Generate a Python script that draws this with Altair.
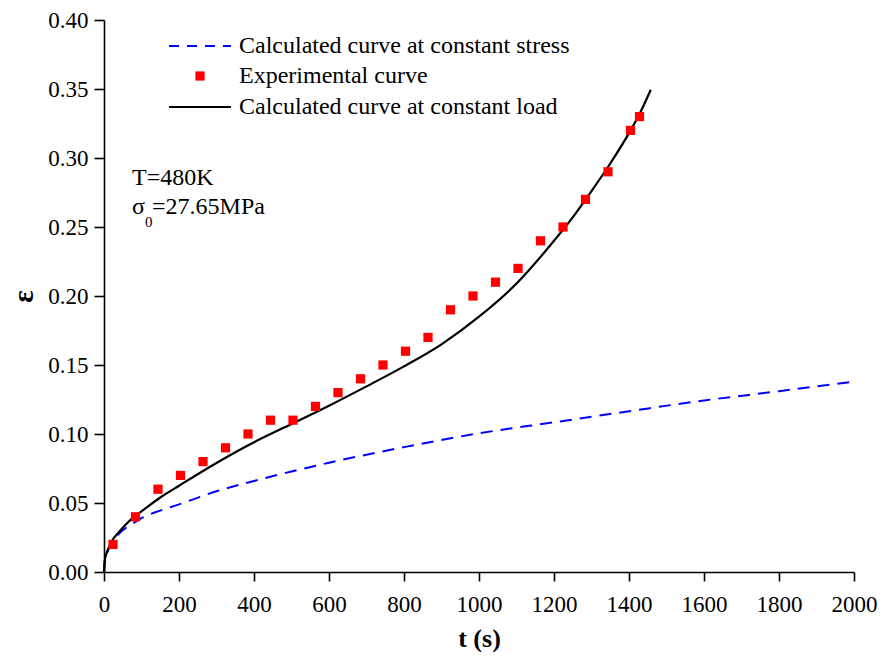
import altair as alt
import pandas as pd

# Experimental points
exp_t = [24, 84, 144, 204, 264, 324, 384, 444, 504, 564, 624, 684, 744, 804, 864,
         924, 984, 1044, 1104, 1164, 1224, 1284, 1344, 1404, 1428]
exp_eps = [0.02, 0.04, 0.06, 0.07, 0.08, 0.09, 0.10, 0.11, 0.11, 0.12, 0.13, 0.14, 0.15,
           0.16, 0.17, 0.19, 0.20, 0.21, 0.22, 0.24, 0.25, 0.27, 0.29, 0.32, 0.33]

# Calculated curve at constant load (black)
load_t = [0, 2, 5, 10, 20, 40, 60, 80, 100, 150, 200, 300, 400, 500, 600, 700, 800,
          900, 1000, 1100, 1200, 1250, 1300, 1350, 1400, 1430, 1458]
load_eps = [0.0, 0.008, 0.012, 0.016, 0.022, 0.029, 0.035, 0.040, 0.044, 0.054, 0.0625,
            0.079, 0.094, 0.1072, 0.1205, 0.1345, 0.149, 0.165, 0.185, 0.209, 0.240,
            0.257, 0.276, 0.296, 0.318, 0.333, 0.3495]

# Calculated curve at constant stress (blue dashed)
stress_t = [0, 2, 5, 10, 20, 40, 60, 80, 100, 150, 200, 300, 400, 500, 600, 700, 800,
            1000, 1200, 1400, 1600, 1800, 2000]
stress_eps = [0.0, 0.007, 0.011, 0.015, 0.0205, 0.0277, 0.0322, 0.0357, 0.039, 0.0445,
              0.049, 0.0585, 0.066, 0.0728, 0.0792, 0.085, 0.0905, 0.1005, 0.1085,
              0.1165, 0.1243, 0.131, 0.138]

x_ticks = list(range(0, 2001, 100))
y_ticks = [round(i * 0.025, 3) for i in range(17)]

legend_labels = ["Calculated curve at constant stress", "Experimental curve",
                 "Calculated curve at constant load"]

FONT = "Times New Roman, Liberation Serif, serif"

xscale = alt.Scale(domain=[0, 2000], nice=False, zero=True)
yscale = alt.Scale(domain=[0, 0.4], nice=False, zero=True)

xaxis = alt.Axis(
    values=x_ticks, format="d", labelFlush=False,
    labelExpr="datum.value % 200 === 0 ? datum.label : ''",
    tickSize={"condition": {"test": "datum.value % 200 === 0", "value": 9}, "value": 5},
    title="t (s)", grid=False,
)
yaxis = alt.Axis(
    values=y_ticks, format=".2f", labelFlush=False,
    labelExpr="abs(datum.value*20 - round(datum.value*20)) < 0.001 ? datum.label : ''",
    tickSize={"condition": {"test": "abs(datum.value*20 - round(datum.value*20)) < 0.001", "value": 10}, "value": 5},
    title="ε", grid=False,
)

df_load = pd.DataFrame({"t": load_t, "eps": load_eps})
df_stress = pd.DataFrame({"t": stress_t, "eps": stress_eps})
df_exp = pd.DataFrame({"t": exp_t, "eps": exp_eps})

stress_line = alt.Chart(df_stress).mark_line(
    color="#0000ff", strokeWidth=2, strokeDash=[12, 8], interpolate="monotone"
).encode(
    x=alt.X("t:Q", scale=xscale, axis=xaxis),
    y=alt.Y("eps:Q", scale=yscale, axis=yaxis),
)

load_line = alt.Chart(df_load).mark_line(
    color="black", strokeWidth=2.2, interpolate="monotone"
).encode(
    x=alt.X("t:Q", scale=xscale),
    y=alt.Y("eps:Q", scale=yscale),
)

exp_pts = alt.Chart(df_exp).mark_point(
    shape="square", filled=True, color="#ff0000", size=85, opacity=1
).encode(
    x=alt.X("t:Q", scale=xscale),
    y=alt.Y("eps:Q", scale=yscale),
)

one = pd.DataFrame({"a": [0]})

leg_blue = alt.Chart(one).mark_rule(color="#0000ff", strokeWidth=2, strokeDash=[10, 8]).encode(
    x=alt.value(65), x2=alt.value(127), y=alt.value(26))
leg_red = alt.Chart(one).mark_point(shape="square", filled=True, color="#ff0000", size=85, opacity=1).encode(
    x=alt.value(96), y=alt.value(56))
leg_black = alt.Chart(one).mark_rule(color="black", strokeWidth=2.2).encode(
    x=alt.value(65), x2=alt.value(127), y=alt.value(87))

texts = []
for lab, yy in zip(legend_labels, [26, 56, 87]):
    texts.append(
        alt.Chart(pd.DataFrame({"label": [lab]})).mark_text(
            align="left", baseline="middle", font=FONT, fontSize=24, color="black"
        ).encode(x=alt.value(135), y=alt.value(yy), text="label:N")
    )

annot = [
    ("T=480K", 28, 158, 24),
    ("σ", 28, 187, 24),
    ("0", 41, 202, 15),
    ("=27.65MPa", 48, 187, 24),
]
for txt, xx, yy, fs in annot:
    texts.append(
        alt.Chart(pd.DataFrame({"label": [txt]})).mark_text(
            align="left", baseline="middle", font=FONT, fontSize=fs, color="black"
        ).encode(x=alt.value(xx), y=alt.value(yy), text="label:N")
    )

chart = alt.layer(
    stress_line, load_line, exp_pts, leg_blue, leg_red, leg_black, *texts
).properties(
    width=750, height=552,
    autosize=alt.AutoSizeParams(type="none"),
    padding={"left": 96, "top": 12, "right": 23, "bottom": 80},
).configure_view(
    stroke=None
).configure_axis(
    domainColor="black", domainWidth=1.6, tickColor="black", tickWidth=1.6,
    labelFont=FONT, labelFontSize=23, labelColor="black",
    titleFont=FONT, titleFontSize=26, titleFontWeight="bold", titleColor="black",
).configure_axisX(
    labelPadding=12, titlePadding=9,
).configure_axisY(
    labelPadding=6, titlePadding=9, titleFontSize=29,
)

chart.save("out.html", embed_options={"renderer": "svg", "actions": False})
